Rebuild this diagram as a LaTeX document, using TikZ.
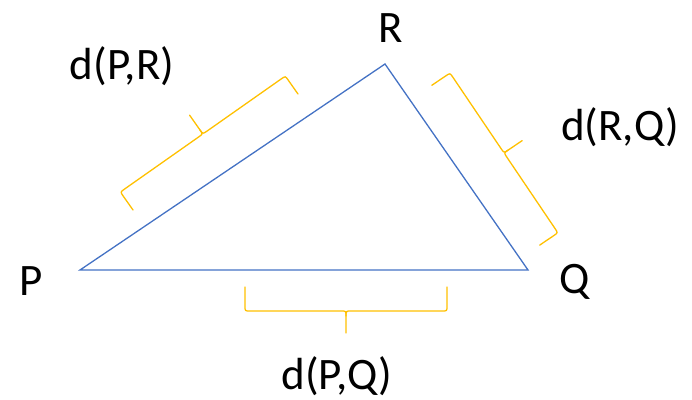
\documentclass[tikz,border=0pt]{standalone}
\usepackage{fontspec}
\setmainfont{Carlito}
\definecolor{triblue}{HTML}{4472C4}
\definecolor{braceyellow}{HTML}{FFC000}
\tikzset{
  tri/.style={draw=triblue, line width=1.3pt},
  bracestyle/.style={draw=braceyellow, line width=1.3pt, line cap=round},
  lbl/.style={anchor=base, inner sep=0pt, font=\fontsize{45}{50}\selectfont}
}
\newcommand\mybrace[3]{%
  \draw[bracestyle] (0,0) -- (0,{#2-5}) .. controls (0,{#2}) .. (5,{#2}) -- ({#1/2-5},{#2}) .. controls ({#1/2},{#2}) .. ({#1/2},{#2+5}) -- ({#1/2},{#2+#3});
  \draw[bracestyle] (#1,0) -- (#1,{#2-5}) .. controls (#1,{#2}) .. ({#1-5},{#2}) -- ({#1/2+5},{#2}) .. controls ({#1/2},{#2}) .. ({#1/2},{#2+5});
}
\begin{document}
\begin{tikzpicture}[x=1pt,y=-1pt]
\useasboundingbox (0,0) rectangle (692,399);
% triangle
\coordinate (P) at (80,270);
\coordinate (R) at (385,64);
\coordinate (Q) at (528,270);
\draw[tri] (P) -- (R) -- (Q) -- cycle;
% braces
\begin{scope}[shift={(245,287)},x={(1pt,0pt)},y={(0pt,-1pt)}]
  \mybrace{202}{24}{22}
\end{scope}
\begin{scope}[shift={(133,210)},x={(0.818pt,0.575pt)},y={(-0.575pt,0.818pt)}]
  \mybrace{201.7}{22}{23}
\end{scope}
\begin{scope}[shift={(431.8,85.3)},x={(0.559pt,-0.828pt)},y={(0.828pt,0.559pt)}]
  \mybrace{193}{22}{22}
\end{scope}
% labels
\node[lbl] (lP) at (31,295) {P};
\node[lbl] (lR) at (391,42) {R};
\node[lbl] (lQ) at (575,293) {Q};
\node[lbl] (dPR) at (122,79) {d(P,R)};
\node[lbl] (dRQ) at (620,140) {d(R,Q)};
\node[lbl] (dPQ) at (337,389) {d(P,Q)};
\end{tikzpicture}
\end{document}
